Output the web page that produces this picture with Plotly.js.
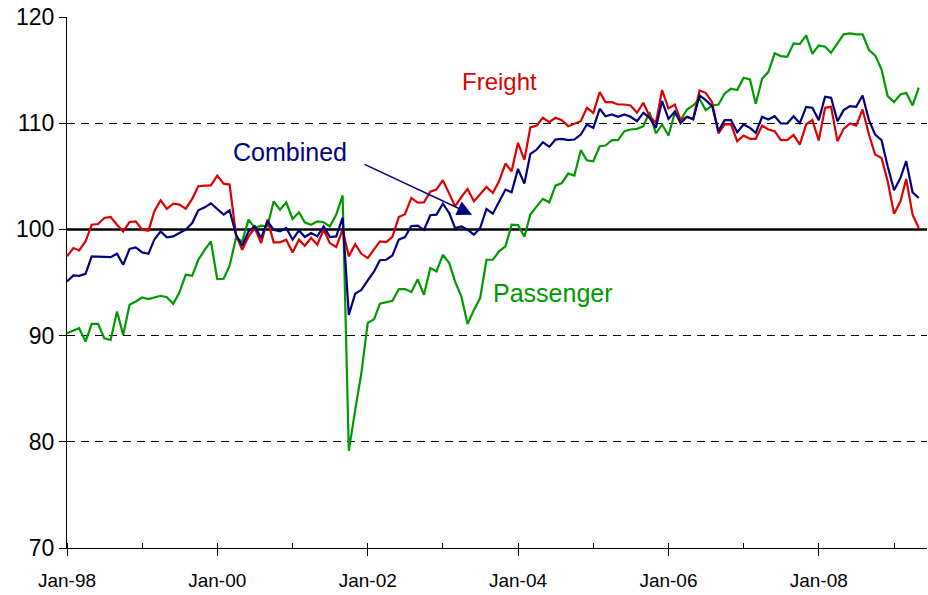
<!DOCTYPE html>
<html>
<head>
<meta charset="utf-8">
<script src="https://cdn.plot.ly/plotly-3.0.1.min.js"></script>
<style>
  html, body { margin: 0; padding: 0; background: #fff; }
  #chart { width: 928px; height: 595px; }
</style>
</head>
<body>
<div id="chart"></div>
<script>
// Monthly series, Jan-1998 .. May-2009
const startYear = 1998;
const startMonth = 1;

const freight = [
  97.46, 98.24, 98.02, 98.87, 100.44, 100.51, 101.07, 101.17, 100.44, 99.81, 100.70, 100.76,
  99.97, 99.88, 101.70, 102.74, 101.92, 102.42, 102.33, 101.95, 102.87, 104.06, 104.12, 104.15,
  105.07, 104.31, 104.22, 99.50, 98.08, 99.34, 100.13, 98.71, 100.92, 98.78, 98.78, 99.03,
  97.83, 99.03, 98.46, 99.19, 98.56, 99.97, 98.71, 98.34, 100.0, 97.46, 98.6, 97.7,
  97.3, 98.15, 98.87, 98.8, 99.3, 101.17, 101.43, 102.96, 102.52, 102.55, 103.55, 103.75,
  104.63, 103.37, 102.17, 103.05, 103.81, 102.64, 103.27, 104.00, 103.43, 104.53, 106.20, 105.47,
  108.15, 106.55, 109.6, 109.78, 110.51, 110.10, 110.51, 110.29, 109.72, 109.97, 110.19, 111.45,
  110.98, 112.93, 111.98, 111.98, 111.76, 111.76, 111.67, 110.98, 111.92, 110.66, 110.03, 113.12,
  111.4, 111.76, 110.3, 110.60, 110.41, 113.08, 112.86, 111.98, 109.03, 109.88, 109.88, 108.30,
  108.84, 108.53, 108.53, 109.78, 109.41, 109.25, 108.40, 108.40, 108.9, 107.99, 109.88, 110.29,
  108.37, 111.45, 111.54, 108.31, 109.47, 109.97, 109.78, 111.29, 108.93, 107.05, 106.73, 104.53,
  101.48, 102.64, 104.75, 101.39, 100.13
];

const combined = [
  95.10, 95.66, 95.63, 95.82, 97.46, 97.46, 97.43, 97.39, 97.71, 96.67, 98.15, 98.30,
  97.83, 97.71, 99.03, 99.81, 99.25, 99.34, 99.66, 99.97, 100.60, 101.80, 102.08, 102.46,
  101.92, 101.39, 101.80, 99.50, 98.46, 99.81, 100.29, 99.19, 100.76, 99.97, 99.81, 100.13,
  99.03, 99.91, 99.28, 99.66, 99.34, 100.29, 99.28, 99.34, 101.1, 91.95, 93.95, 94.31,
  95.2, 96.05, 97.1, 97.14, 97.55, 99.03, 99.28, 100.32, 100.35, 99.95, 101.33, 101.39,
  102.42, 101.54, 100.13, 100.29, 99.97, 99.50, 100.13, 101.92, 101.48, 102.64, 103.75, 103.50,
  105.7, 104.31, 107.1, 107.52, 108.21, 107.77, 108.46, 108.53, 108.40, 108.46, 108.93, 109.88,
  109.56, 111.36, 110.66, 110.82, 110.60, 110.82, 110.60, 110.19, 110.98, 110.51, 109.56, 112.08,
  110.41, 111.1, 110.0, 110.60, 110.35, 112.61, 112.17, 111.61, 109.25, 110.29, 110.29, 109.15,
  109.88, 109.56, 109.09, 110.60, 110.35, 110.66, 109.97, 109.97, 110.66, 110.0, 111.54, 111.45,
  110.29, 112.49, 112.39, 110.19, 111.23, 111.61, 111.54, 112.61, 110.29, 108.93, 108.40, 105.95,
  103.68, 104.85, 106.42, 103.49, 102.96
];

const passenger = [
  90.22, 90.5, 90.70, 89.44, 91.10, 91.10, 89.75, 89.59, 92.27, 90.07, 92.90, 93.21,
  93.59, 93.43, 93.59, 93.75, 93.62, 92.99, 94.06, 95.73, 95.63, 97.14, 98.08, 98.87,
  95.32, 95.35, 96.58, 99.19, 98.87, 100.92, 100.13, 100.35, 100.29, 102.64, 101.86, 102.55,
  100.98, 101.61, 100.67, 100.44, 100.76, 100.67, 100.29, 101.39, 103.2, 79.15, 82.99, 86.45,
  91.2, 91.54, 93.0, 93.13, 93.27, 94.37, 94.38, 94.1, 95.3, 93.84, 96.36, 96.04,
  97.61, 96.83, 95.10, 93.68, 91.10, 92.42, 93.53, 97.14, 97.14, 97.93, 98.40, 100.44,
  100.40, 99.3, 101.4, 102.17, 102.87, 102.55, 104.12, 104.37, 105.25, 105.07, 107.46, 106.51,
  106.42, 107.83, 107.90, 108.40, 108.40, 109.25, 109.41, 109.47, 109.72, 111.04, 109.03, 109.88,
  108.84, 110.98, 110.3, 111.29, 111.67, 112.30, 111.23, 111.67, 111.76, 112.80, 113.24, 113.12,
  114.28, 114.12, 111.84, 114.19, 114.81, 116.58, 116.32, 116.26, 117.52, 117.45, 118.27, 116.54,
  117.33, 117.20, 116.64, 117.52, 118.37, 118.46, 118.37, 118.37, 116.89, 116.39, 115.07, 112.55,
  111.98, 112.71, 112.87, 111.67, 113.34
];

const yTicks = [70, 80, 90, 100, 110, 120];
const seriesNames = ['Freight', 'Combined', 'Passenger'];

function monthDate(i) {
  const total = (startYear * 12 + (startMonth - 1)) + i;
  const y = Math.floor(total / 12);
  const m = (total % 12) + 1;
  return y + '-' + String(m).padStart(2, '0') + '-01';
}
const months = freight.map((_, i) => monthDate(i));

const FONT = 'Arial, "Liberation Sans", Helvetica, sans-serif';
const RED = '#dd0000';
const NAVY = '#000080';
const GREEN = '#009900';

const traces = [
  { x: months, y: passenger, name: seriesNames[2], type: 'scatter', mode: 'lines',
    line: { color: GREEN, width: 2.2 } },
  { x: months, y: freight, name: seriesNames[0], type: 'scatter', mode: 'lines',
    line: { color: RED, width: 2.2 } },
  { x: months, y: combined, name: seriesNames[1], type: 'scatter', mode: 'lines',
    line: { color: NAVY, width: 2.2 } }
];

const layout = {
  width: 928, height: 595,
  margin: { l: 67, r: 1, t: 17, b: 47 },
  paper_bgcolor: '#ffffff', plot_bgcolor: '#ffffff',
  showlegend: false,
  font: { family: FONT, color: '#000' },
  xaxis: {
    type: 'date',
    range: ['1998-01-01', '2009-06-10'],
    tick0: '1998-01-01', dtick: 'M24', tickformat: '%b-%y',
    ticks: 'outside', ticklen: 7, tickwidth: 1, tickcolor: '#000',
    showgrid: false, zeroline: false,
    showline: true, linecolor: '#000', linewidth: 1,
    tickfont: { family: FONT, size: 19, color: '#000' },
    ticklabelstandoff: 8,
    minor: { dtick: 'M12', tick0: '1998-01-01', ticks: 'inside', ticklen: 5, tickwidth: 1, tickcolor: '#000', showgrid: false }
  },
  yaxis: {
    range: [70, 120],
    tickvals: yTicks,
    ticks: 'outside', ticklen: 7, tickwidth: 1, tickcolor: '#000',
    showgrid: true, gridcolor: '#000', gridwidth: 1, griddash: '8px,6px',
    zeroline: false,
    showline: true, linecolor: '#000', linewidth: 1,
    tickfont: { family: FONT, size: 23, color: '#000' }
  },
  shapes: [
    { type: 'line', xref: 'paper', yref: 'y', x0: 0, x1: 1, y0: 100, y1: 100,
      line: { color: '#000', width: 2.5 }, layer: 'below' }
  ],
  annotations: [
    { x: '2003-10-05', y: 113.9, xref: 'x', yref: 'y', text: 'Freight', showarrow: false,
      font: { family: FONT, size: 24, color: RED } },
    { x: '2000-12-19', y: 107.3, xref: 'x', yref: 'y', text: 'Combined', showarrow: false,
      font: { family: FONT, size: 25, color: NAVY } },
    { x: '2004-06-19', y: 94.0, xref: 'x', yref: 'y', text: 'Passenger', showarrow: false,
      font: { family: FONT, size: 25, color: GREEN } },
    { x: '2003-05-23', y: 101.39, xref: 'x', yref: 'y', text: '', showarrow: true,
      ax: -109, ay: -51, arrowhead: 2, arrowsize: 2, arrowwidth: 1.5, arrowcolor: NAVY, standoff: 0 }
  ]
};

Plotly.newPlot('chart', traces, layout, { displayModeBar: false, staticPlot: true });
</script>
</body>
</html>
